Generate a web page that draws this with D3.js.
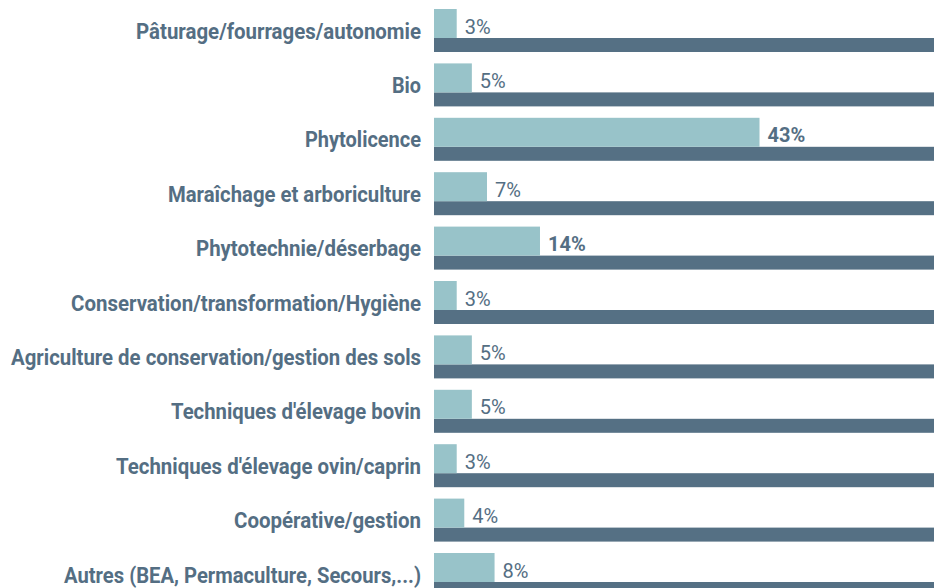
<!DOCTYPE html>
<html>
<head>
<meta charset="utf-8">
<script src="https://cdn.jsdelivr.net/npm/d3@7"></script>
<style>
  html, body { margin: 0; padding: 0; background: #ffffff; }
  svg { display: block; }
</style>
</head>
<body>
<svg id="chart" width="934" height="588"></svg>
<script>
const categories = [
  "Pâturage/fourrages/autonomie",
  "Bio",
  "Phytolicence",
  "Maraîchage et arboriculture",
  "Phytotechnie/déserbage",
  "Conservation/transformation/Hygiène",
  "Agriculture de conservation/gestion des sols",
  "Techniques d'élevage bovin",
  "Techniques d'élevage ovin/caprin",
  "Coopérative/gestion",
  "Autres (BEA, Permaculture, Secours,...)"
];
const values = [3, 5, 43, 7, 14, 3, 5, 5, 3, 4, 8];
const totals = [100, 100, 100, 100, 100, 100, 100, 100, 100, 100, 100];
// approximate rendered widths of the condensed labels in the reference (px)
const labelWidths = [285, 29, 116, 253, 225, 350, 410, 250, 305, 187, 357];

const W = 934, H = 588;
const left = 434;
const svg = d3.select("#chart");

const y = d3.scaleBand().domain(categories).range([9, 9 + 54.4 * categories.length]).padding(0);
const x = d3.scaleLinear().domain([0, 100]).range([left, left + 757]);

const lightH = 29, darkH = 14;
const textColor = "#546e83";

const rows = categories.map((c, i) => ({ c, v: values[i], t: totals[i], w: labelWidths[i] }));

svg.append("g").selectAll("rect").data(rows).join("rect")
  .attr("x", x(0))
  .attr("y", d => y(d.c) + lightH)
  .attr("width", d => x(d.t) - x(0))
  .attr("height", darkH)
  .attr("fill", "#557084");

svg.append("g").selectAll("rect").data(rows).join("rect")
  .attr("x", x(0))
  .attr("y", d => y(d.c))
  .attr("width", d => x(d.v) - x(0))
  .attr("height", lightH)
  .attr("fill", "#98c3c9");

svg.append("g").selectAll("text").data(rows).join("text")
  .attr("x", d => x(d.v) + 8)
  .attr("y", d => y(d.c) + 24.5)
  .attr("font-family", "Roboto, sans-serif")
  .attr("font-size", 20)
  .attr("font-weight", d => d.v >= 10 ? 700 : 400)
  .attr("fill", textColor)
  .text(d => d.v + "%");

svg.append("g").selectAll("text").data(rows).join("text")
  .attr("x", 421)
  .attr("y", d => y(d.c) + 29.5)
  .attr("text-anchor", "end")
  .attr("font-family", "Roboto, sans-serif")
  .attr("font-size", 22.5)
  .attr("font-weight", 700)
  .attr("fill", textColor)
  .attr("textLength", d => d.w)
  .attr("lengthAdjust", "spacingAndGlyphs")
  .text(d => d.c);
</script>
</body>
</html>
